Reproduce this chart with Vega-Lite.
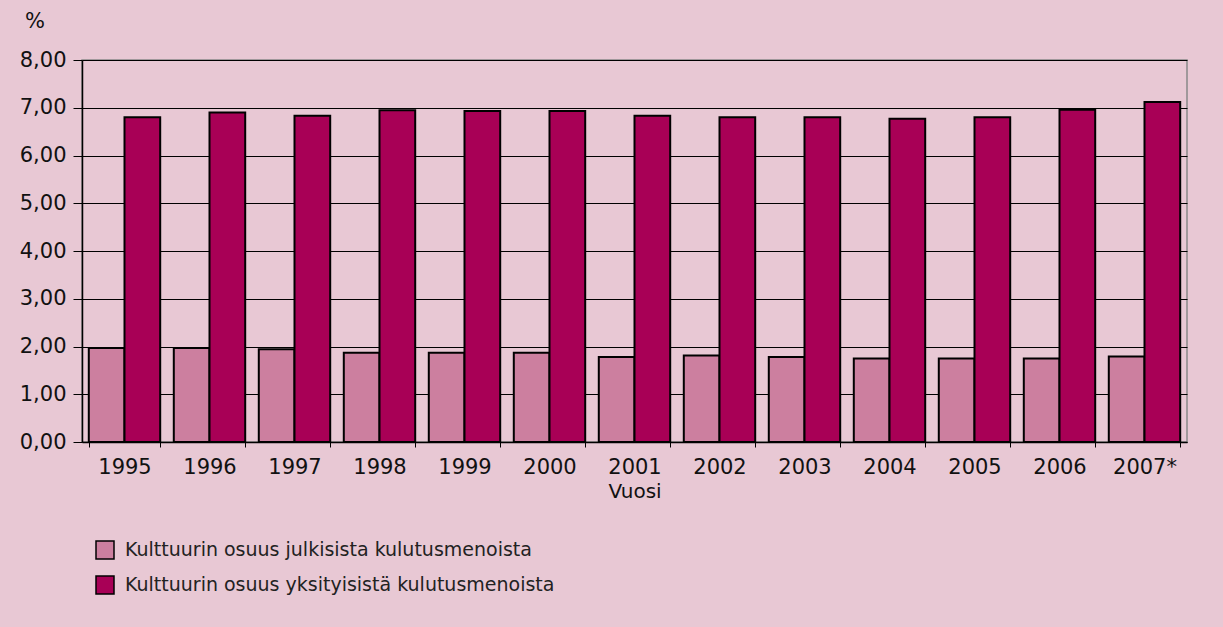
{
  "$schema": "https://vega.github.io/schema/vega-lite/v6.json",
  "autosize": "none",
  "width": 1105,
  "height": 382,
  "padding": {"left": 82, "top": 60, "right": 36, "bottom": 185},
  "background": "#E8C8D4",
  "config": {
    "font": "DejaVu Sans",
    "view": {"stroke": "#888888", "strokeWidth": 1.5},
    "axis": {"labelColor": "#111111", "titleColor": "#111111", "domainColor": "#000000", "tickColor": "#000000"}
  },
  "data": {
    "values": [
      {"year": "1995", "series": "Kulttuurin osuus julkisista kulutusmenoista", "value": 1.97},
      {"year": "1995", "series": "Kulttuurin osuus yksityisistä kulutusmenoista", "value": 6.80},
      {"year": "1996", "series": "Kulttuurin osuus julkisista kulutusmenoista", "value": 1.97},
      {"year": "1996", "series": "Kulttuurin osuus yksityisistä kulutusmenoista", "value": 6.90},
      {"year": "1997", "series": "Kulttuurin osuus julkisista kulutusmenoista", "value": 1.94},
      {"year": "1997", "series": "Kulttuurin osuus yksityisistä kulutusmenoista", "value": 6.83},
      {"year": "1998", "series": "Kulttuurin osuus julkisista kulutusmenoista", "value": 1.87},
      {"year": "1998", "series": "Kulttuurin osuus yksityisistä kulutusmenoista", "value": 6.95},
      {"year": "1999", "series": "Kulttuurin osuus julkisista kulutusmenoista", "value": 1.87},
      {"year": "1999", "series": "Kulttuurin osuus yksityisistä kulutusmenoista", "value": 6.93},
      {"year": "2000", "series": "Kulttuurin osuus julkisista kulutusmenoista", "value": 1.87},
      {"year": "2000", "series": "Kulttuurin osuus yksityisistä kulutusmenoista", "value": 6.93},
      {"year": "2001", "series": "Kulttuurin osuus julkisista kulutusmenoista", "value": 1.78},
      {"year": "2001", "series": "Kulttuurin osuus yksityisistä kulutusmenoista", "value": 6.83},
      {"year": "2002", "series": "Kulttuurin osuus julkisista kulutusmenoista", "value": 1.81},
      {"year": "2002", "series": "Kulttuurin osuus yksityisistä kulutusmenoista", "value": 6.80},
      {"year": "2003", "series": "Kulttuurin osuus julkisista kulutusmenoista", "value": 1.78},
      {"year": "2003", "series": "Kulttuurin osuus yksityisistä kulutusmenoista", "value": 6.80},
      {"year": "2004", "series": "Kulttuurin osuus julkisista kulutusmenoista", "value": 1.75},
      {"year": "2004", "series": "Kulttuurin osuus yksityisistä kulutusmenoista", "value": 6.77},
      {"year": "2005", "series": "Kulttuurin osuus julkisista kulutusmenoista", "value": 1.75},
      {"year": "2005", "series": "Kulttuurin osuus yksityisistä kulutusmenoista", "value": 6.80},
      {"year": "2006", "series": "Kulttuurin osuus julkisista kulutusmenoista", "value": 1.75},
      {"year": "2006", "series": "Kulttuurin osuus yksityisistä kulutusmenoista", "value": 6.96},
      {"year": "2007*", "series": "Kulttuurin osuus julkisista kulutusmenoista", "value": 1.79},
      {"year": "2007*", "series": "Kulttuurin osuus yksityisistä kulutusmenoista", "value": 7.12}
    ]
  },
  "mark": {"type": "bar", "stroke": "#000000", "strokeWidth": 2},
  "encoding": {
    "x": {
      "field": "year", "type": "nominal", "sort": null,
      "scale": {"paddingInner": 0.16, "paddingOuter": 0.08},
      "axis": {
        "title": "Vuosi", "labelAngle": 0, "labelFontSize": 21, "titleFontSize": 20, "titleFontWeight": "normal",
        "tickBand": "extent", "tickSize": 5, "labelPadding": 9, "titlePadding": 4,
        "domainWidth": 1.5, "grid": false
      }
    },
    "xOffset": {"field": "series", "type": "nominal"},
    "y": {
      "field": "value", "type": "quantitative",
      "scale": {"domain": [0, 8], "nice": false},
      "axis": {
        "title": "%", "titleAngle": 0, "titleX": -47.5, "titleY": -39, "titleAlign": "center", "titleBaseline": "middle",
        "titleFontSize": 21, "titleFontWeight": "normal",
        "values": [0, 1, 2, 3, 4, 5, 6, 7, 8], "format": ".2f", "labelExpr": "replace(datum.label, '.', ',')",
        "labelFontSize": 21, "tickSize": 9, "labelPadding": 7,
        "grid": true, "gridColor": "#000000", "gridOpacity": 1, "gridWidth": 1,
        "domainWidth": 1.5
      }
    },
    "color": {
      "field": "series", "type": "nominal",
      "scale": {"range": ["#CC7F9F", "#A80056"]},
      "legend": {
        "title": null, "orient": "none", "legendX": 13, "legendY": 480, "direction": "vertical",
        "symbolType": "square", "symbolSize": 324, "symbolStrokeColor": "#000000", "symbolStrokeWidth": 1.5,
        "labelFontSize": 19, "labelColor": "#222222", "labelOffset": 10, "rowPadding": 11, "labelLimit": 800
      }
    }
  }
}
